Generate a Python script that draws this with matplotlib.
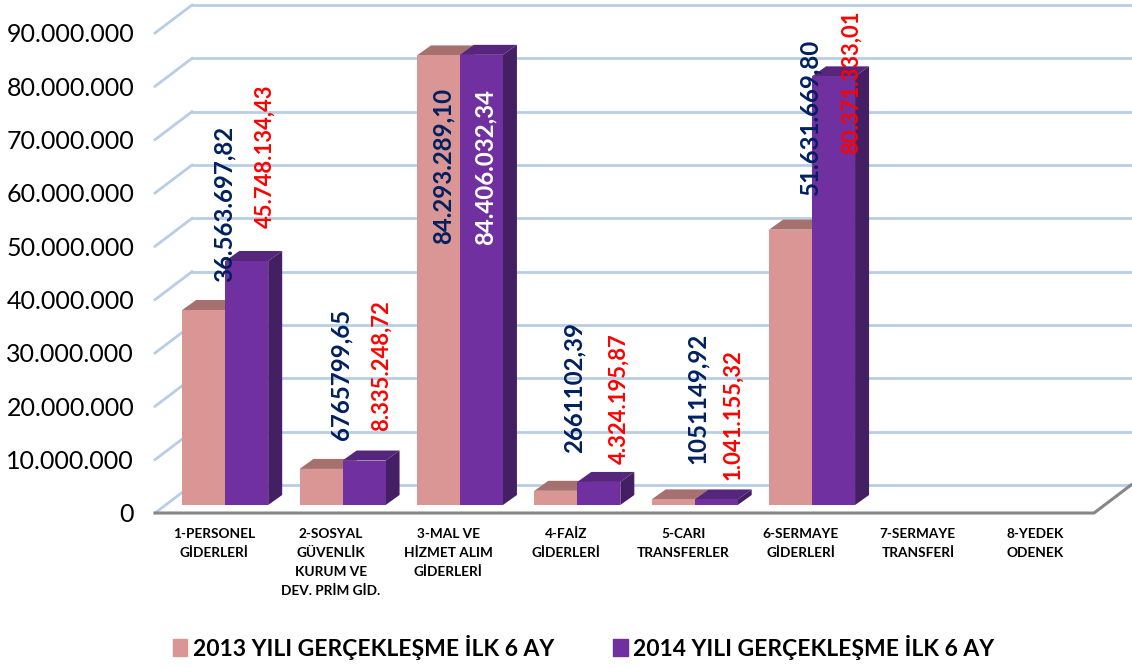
import matplotlib
matplotlib.use("Agg")
from matplotlib import pyplot as plt
from matplotlib.patches import Polygon, Patch
import numpy as np

plt.rcParams['font.family'] = ['Lato', 'DejaVu Sans']

# Chart data
categories = ["1-PERSONEL\nGİDERLERİ", "2-SOSYAL\nGÜVENLİK\nKURUM VE\nDEV. PRİM GİD.",
              "3-MAL VE\nHİZMET ALIM\nGİDERLERİ", "4-FAİZ\nGİDERLERİ", "5-CARI\nTRANSFERLER",
              "6-SERMAYE\nGİDERLERİ", "7-SERMAYE\nTRANSFERİ", "8-YEDEK\nODENEK"]
values_2013 = [36563697.82, 6765799.65, 84293289.10, 2661102.39, 1051149.92, 51631669.80]
values_2014 = [45748134.43, 8335248.72, 84406032.34, 4324195.87, 1041155.32, 80371333.01]
labels_2013 = ["36.563.697,82", "6765799,65", "84.293.289,10", "2661102,39", "1051149,92", "51.631.669,80"]
labels_2014 = ["45.748.134,43", "8.335.248,72", "84.406.032,34", "4.324.195,87", "1.041.155,32", "80.371.333,01"]
y_ticks = np.arange(0, 90000001, 10000000)
series_names = ["2013 YILI GERÇEKLEŞME İLK 6 AY", "2014 YILI GERÇEKLEŞME İLK 6 AY"]

# Label offsets from the top centre of each bar, in pixels
offsets_2013 = [(20, 28), (20, 29), (5, -189), (18, 38), (24, 35), (19, 35)]
offsets_2014 = [(18, 33), (17, 30), (4, -190), (20, 18), (17, 19), (18, -78)]
sizes_2014 = [15.8, 15.8, 17.3, 15.8, 15.8, 15.8]

# Colours
PINK, PINK_TOP = "#d99694", "#a5706e"
PURPLE, PURPLE_TOP, PURPLE_SIDE = "#7030a0", "#56267d", "#451f63"
PINK_SIDE = "#a5706e"
GRID, FLOOR = "#b9cde5", "#868686"
NAVY, RED = "#002060", "#ff0000"

W, H = 1132, 668
fig = plt.figure(figsize=(W / 100, H / 100), dpi=100)
ax = fig.add_axes([155 / W, (H - 513) / H, 939 / W, 480 / H])
ax.set_xlim(0, 8)
ax.set_ylim(0, 90000000)

# Pixel sizes converted to data units, for the fake 3D depth
px_x = 8 / 939
px_y = 90000000 / 480
wall_dx, wall_dy = 37 * px_x, 28 * px_y
bar_dx, bar_dy = 14 * px_x, 10 * px_y
front_dx, front_dy = 11.5 * px_x, 8 * px_y
bar_w = 43 * px_x

# Back wall, left wall and floor
for tick in y_ticks:
    ax.plot([wall_dx, 8 + wall_dx], [tick + wall_dy] * 2, color=GRID, lw=2, clip_on=False, zorder=1)
    ax.plot([0, wall_dx], [tick, tick + wall_dy], color=GRID, lw=2, clip_on=False, zorder=1)
ax.plot([0, 8, 8 + wall_dx], [0, 0, wall_dy], color=FLOOR, lw=2.2, clip_on=False, zorder=2,
        solid_joinstyle="miter")


def draw_bars(centres, values, front, top, side, z):
    '''Draws the front, top and side faces of one series.'''
    ax.bar(centres + front_dx, values, bar_w, bottom=front_dy, color=front, zorder=z + 0.2)
    for c, v in zip(centres, values):
        l = c + front_dx - bar_w / 2
        r = c + front_dx + bar_w / 2
        t = v + front_dy
        ax.add_patch(Polygon([(l, t), (r, t), (r + bar_dx, t + bar_dy), (l + bar_dx, t + bar_dy)],
                             color=top, lw=0, zorder=z, clip_on=False))
        ax.add_patch(Polygon([(r, front_dy), (r + bar_dx, front_dy + bar_dy), (r + bar_dx, t + bar_dy), (r, t)],
                             color=side, lw=0, zorder=z, clip_on=False))


x = np.arange(len(values_2013)) + 0.5
draw_bars(x - bar_w / 2, values_2013, PINK, PINK_TOP, PINK_SIDE, 3)
draw_bars(x + bar_w / 2, values_2014, PURPLE, PURPLE_TOP, PURPLE_SIDE, 4)


def draw_labels(centres, values, labels, offsets, colours, sizes):
    '''Writes the rotated value labels next to the bars.'''
    for c, v, text, off, col, size in zip(centres, values, labels, offsets, colours, sizes):
        ax.annotate(text, xy=(c + front_dx, v + front_dy), xytext=off, textcoords="offset pixels",
                    rotation=90, ha="center", va="bottom", fontsize=size, color=col,
                    fontweight="bold", zorder=6, annotation_clip=False)


draw_labels(x - bar_w / 2, values_2013, labels_2013, offsets_2013, [NAVY] * 6, [17.3] * 6)
draw_labels(x + bar_w / 2, values_2014, labels_2014, offsets_2014, [RED, RED, "white", RED, RED, RED], sizes_2014)

# Axes text
ax.set_yticks(y_ticks)
ax.set_yticklabels(["0" if t == 0 else f"{t:,.0f}".replace(",", ".") for t in y_ticks], fontsize=18)
ax.set_xticks(np.arange(8) + 0.5)
ax.set_xticklabels(categories, fontsize=9.8, fontweight="bold", linespacing=1.7)
ax.tick_params(axis="y", length=0, pad=15)
ax.tick_params(axis="x", length=0, pad=11)
for spine in ax.spines.values():
    spine.set_visible(False)

handles = [Patch(color=PINK, label=series_names[0]), Patch(color=PURPLE, label=series_names[1])]
fig.legend(handles=handles, loc="center left", bbox_to_anchor=(152 / W, (H - 647) / H), ncol=2, frameon=False,
           prop={"size": 16.5, "weight": "bold"}, handlelength=0.62, handleheight=0.8, handletextpad=0.25,
           columnspacing=2.6)

fig.savefig("out.png", dpi=100, facecolor="white")
